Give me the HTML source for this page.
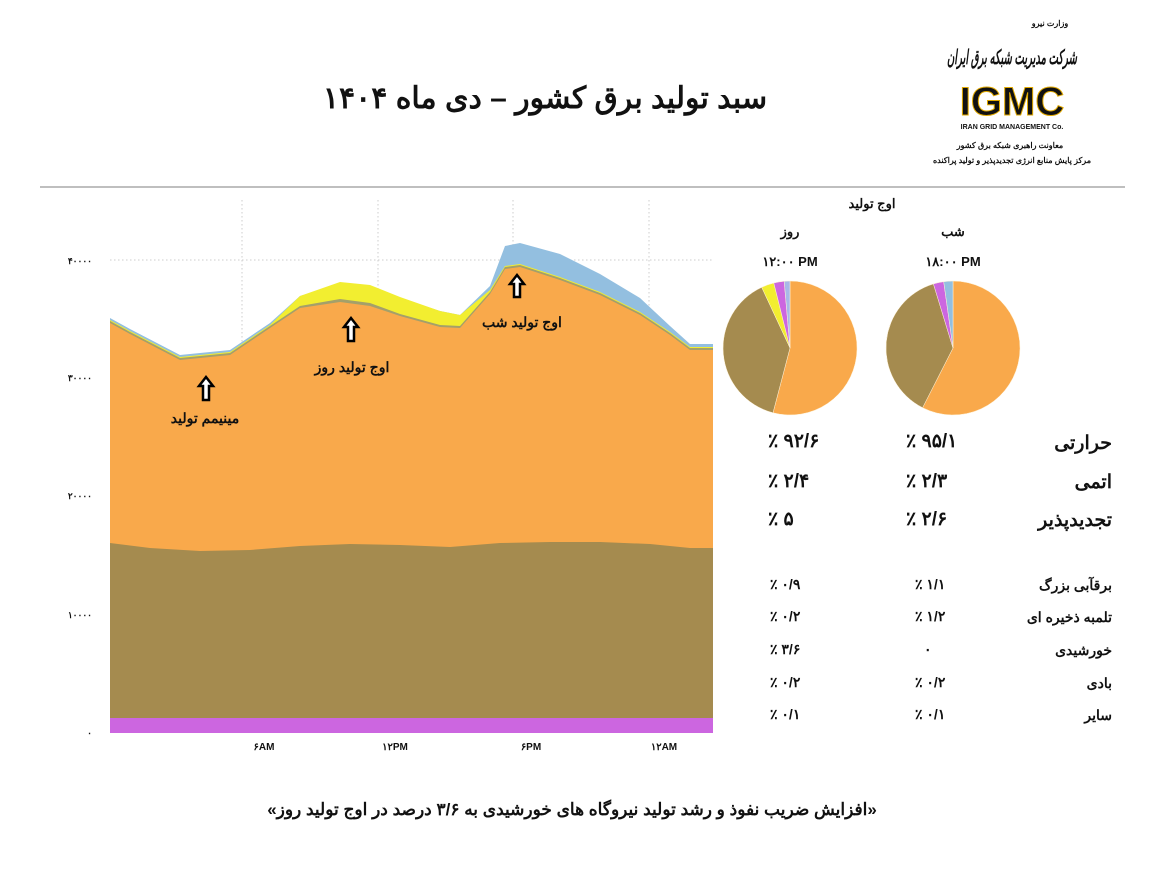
<!DOCTYPE html>
<html><head><meta charset="utf-8"><style>
body{margin:0;background:#fff;width:1172px;height:887px;overflow:hidden}
svg{display:block}
text{font-family:"Liberation Sans","Noto Sans CJK SC",sans-serif;font-weight:bold;fill:#111}
</style></head><body>
<svg width="1172" height="887" viewBox="0 0 1172 887">
<!-- title -->
<text x="545" y="108" font-size="30" text-anchor="middle" direction="rtl">سبد تولید برق کشور – دی ماه ۱۴۰۴</text>
<!-- logo -->
<text x="1050" y="26" font-size="8" text-anchor="middle">وزارت نیرو</text>
<text x="1012" y="64" font-size="20" font-style="italic" text-anchor="middle" direction="rtl" textLength="130" lengthAdjust="spacingAndGlyphs" fill="#222">شرکت مدیریت شبکه برق ایران</text>
<text x="1012" y="115" font-size="40" text-anchor="middle" fill="#f3c21c" stroke="#e0a800" stroke-width="1">IGMC</text>
<text x="1012" y="129" font-size="7" text-anchor="middle" font-family="Liberation Serif">IRAN GRID MANAGEMENT Co.</text>
<text x="1010" y="148" font-size="8" text-anchor="middle">معاونت راهبری شبکه برق کشور</text>
<text x="1012" y="163" font-size="8" text-anchor="middle">مرکز پایش منابع انرژی تجدیدپذیر و تولید پراکنده</text>
<line x1="40" y1="187" x2="1125" y2="187" stroke="#999" stroke-width="1.2"/>
<!-- gridlines -->
<g stroke="#ccc" stroke-dasharray="1.5,2.5" stroke-width="1">
<line x1="242" y1="200" x2="242" y2="733"/><line x1="378" y1="200" x2="378" y2="733"/>
<line x1="513" y1="200" x2="513" y2="733"/><line x1="649" y1="200" x2="649" y2="733"/>
<line x1="110" y1="260" x2="713" y2="260"/>
</g>
<!-- areas -->
<path fill="#93bfe0" d="M110,318 L130,329 L180,355 L200,353 L230,350 L270,323 L300,296 L340,284 L370,287 L400,298 L440,311 L460,315 L490,286 L505,246 L520,243 L560,254 L600,274 L640,298 L670,326 L690,344 L713,344 L713,733 L110,733Z"/>
<path fill="#f2ee30" d="M110,320 L130,331 L180,357 L200,355 L230,352 L270,325 L300,296 L340,282 L370,285 L400,297 L440,311 L460,315 L490,290 L505,266 L520,264 L560,277 L600,292 L640,312 L670,332 L690,347 L713,347 L713,733 L110,733Z"/>
<path fill="#a4a06a" d="M110,321 L130,332 L180,358 L200,356 L230,353 L270,326 L300,306 L340,299 L370,303 L400,314 L440,325 L460,326 L490,292 L505,267 L520,265 L560,278 L600,293 L640,313 L670,333 L690,348 L713,348 L713,733 L110,733Z"/>
<path fill="#f9a94b" d="M110,323 L130,334 L180,360 L200,358 L230,355 L270,328 L300,308 L340,302 L370,306 L400,316 L440,327 L460,328 L490,294 L505,269 L520,267 L560,280 L600,295 L640,315 L670,335 L690,350 L713,350 L713,733 L110,733Z"/>
<path fill="#a58b4f" d="M110,543 L150,548 L200,551 L250,550 L300,546 L350,544 L400,545 L450,547 L500,543 L550,542 L600,542 L650,544 L690,548 L713,548 L713,733 L110,733Z"/>
<rect x="110" y="718" width="603" height="15" fill="#cc66e0"/>
<!-- y ticks -->
<g font-size="9" text-anchor="end">
<text x="92" y="264">۴۰۰۰۰</text><text x="92" y="381">۳۰۰۰۰</text><text x="92" y="499">۲۰۰۰۰</text><text x="92" y="618">۱۰۰۰۰</text><text x="92" y="736">۰</text>
</g>
<g font-size="10" text-anchor="middle" font-family="Liberation Serif">
<text x="264" y="750">۶AM</text><text x="395" y="750">۱۲PM</text><text x="531" y="750">۶PM</text><text x="664" y="750">۱۲AM</text>
</g>
<!-- arrows -->
<g fill="#fff" stroke="#000" stroke-width="2.5">
<path d="M206,377 L199,386 L203,386 L203,400 L209,400 L209,386 L213,386Z"/>
<path d="M351,318 L344,327 L348,327 L348,341 L354,341 L354,327 L358,327Z"/>
<path d="M517,275 L510,284 L514,284 L514,297 L520,297 L520,284 L524,284Z"/>
</g>
<g font-size="14" text-anchor="middle" direction="rtl">
<text x="205" y="423">مینیمم تولید</text>
<text x="352" y="372">اوج تولید روز</text>
<text x="522" y="327">اوج تولید شب</text>
</g>
<!-- pies header -->
<g font-size="13" text-anchor="middle">
<text x="872" y="208">اوج تولید</text>
<text x="790" y="236">روز</text><text x="953" y="236">شب</text>
<text x="790" y="266" font-size="13">۱۲:۰۰ PM</text><text x="953" y="266">۱۸:۰۰ PM</text>
</g>
<g stroke="#fff3d8" stroke-width="0.5">
<path fill="#f9a94b" d="M790,348 L790,281 A67,67 0 1 1 773,412.8Z"/>
<path fill="#a58b4f" d="M790,348 L773,412.8 A67,67 0 0 1 761.7,287.3Z"/>
<path fill="#f2ee30" d="M790,348 L761.7,287.3 A67,67 0 0 1 773.8,283Z"/>
<path fill="#cc66e0" d="M790,348 L773.8,283 A67,67 0 0 1 784.2,281.3Z"/>
<path fill="#a8b8e8" d="M790,348 L784.2,281.3 A67,67 0 0 1 790,281Z"/>
<path fill="#f9a94b" d="M953,348 L953,281 A67,67 0 1 1 922.6,407.7Z"/>
<path fill="#a58b4f" d="M953,348 L922.6,407.7 A67,67 0 0 1 933.4,283.9Z"/>
<path fill="#cc66e0" d="M953,348 L933.4,283.9 A67,67 0 0 1 943.7,281.7Z"/>
<path fill="#93bfe0" d="M953,348 L943.7,281.7 A67,67 0 0 1 953,281Z"/>
</g>
<!-- table -->
<g font-size="19" direction="rtl" text-anchor="start">
<text x="1112" y="449">حرارتی</text>
<text x="1112" y="488">اتمی</text>
<text x="1112" y="526">تجدیدپذیر</text>
</g>
<g font-size="19" text-anchor="start">
<text x="768" y="447">٪ ۹۲/۶</text><text x="906" y="447">٪ ۹۵/۱</text>
<text x="768" y="487">٪ ۲/۴</text><text x="906" y="487">٪ ۲/۳</text>
<text x="768" y="525">٪ ۵</text><text x="906" y="525">٪ ۲/۶</text>
</g>
<g font-size="14" direction="rtl" text-anchor="start">
<text x="1112" y="590">برقآبی بزرگ</text>
<text x="1112" y="622">تلمبه ذخیره ای</text>
<text x="1112" y="655">خورشیدی</text>
<text x="1112" y="688">بادی</text>
<text x="1112" y="720">سایر</text>
</g>
<g font-size="14" text-anchor="start">
<text x="770" y="589">٪ ۰/۹</text><text x="915" y="589">٪ ۱/۱</text>
<text x="770" y="621">٪ ۰/۲</text><text x="915" y="621">٪ ۱/۲</text>
<text x="770" y="654">٪ ۳/۶</text><text x="924" y="654">۰</text>
<text x="770" y="687">٪ ۰/۲</text><text x="915" y="687">٪ ۰/۲</text>
<text x="770" y="719">٪ ۰/۱</text><text x="915" y="719">٪ ۰/۱</text>
</g>
<!-- footer -->
<text x="572" y="815" font-size="17" text-anchor="middle" direction="rtl">«افزایش ضریب نفوذ و رشد تولید نیروگاه های خورشیدی به ۳/۶ درصد در اوج تولید روز»</text>
</svg>
</body></html>
